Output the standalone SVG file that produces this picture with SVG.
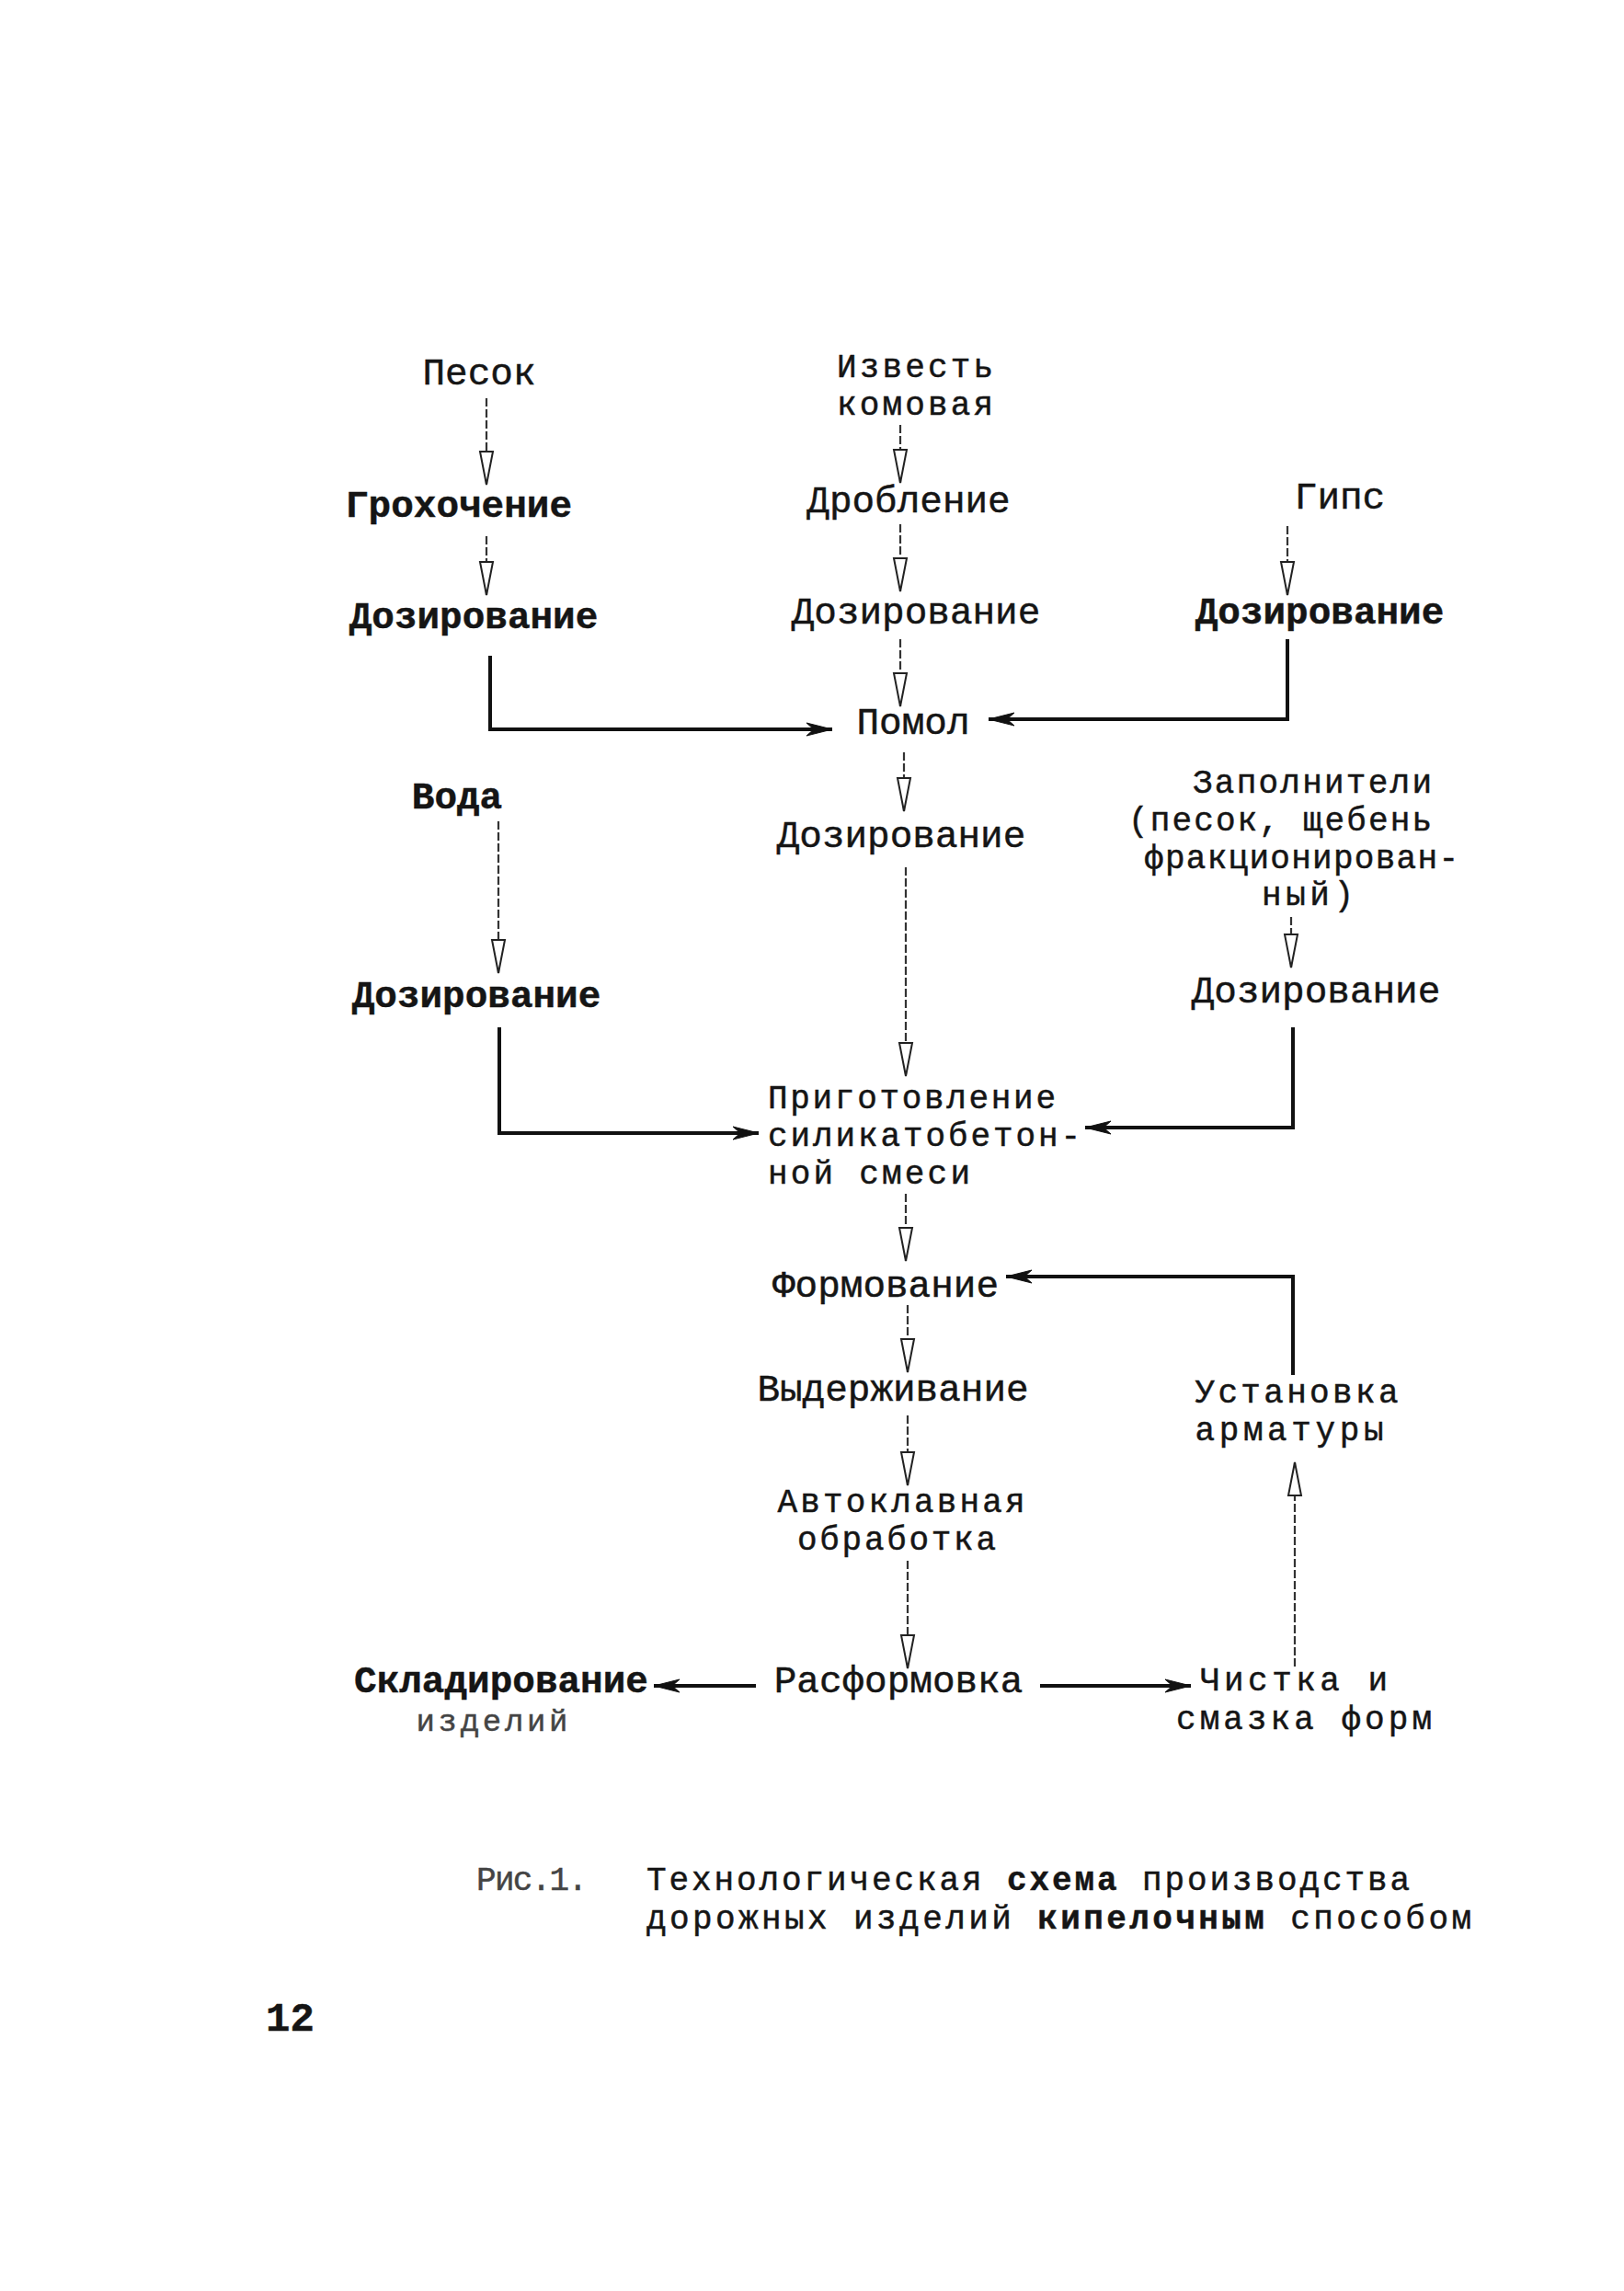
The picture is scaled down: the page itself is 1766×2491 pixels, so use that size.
<svg xmlns="http://www.w3.org/2000/svg" width="1766" height="2491" viewBox="0 0 1766 2491">
<style>
.t{font-family:"Liberation Mono","DejaVu Sans Mono",monospace;font-size:41px;fill:#151515;text-anchor:middle;stroke:#151515;stroke-width:0.5}
.s{font-size:36px}
.l{text-anchor:start}
.b{font-weight:bold}
.g{fill:#444;stroke:#444}
.v{fill:none;stroke:#333;stroke-width:2.2;stroke-dasharray:9 3}
.h{fill:none;stroke:#111;stroke-width:4}
</style>
<defs>
<marker id="ao" viewBox="-42 -10 46 20" refX="0" refY="0" markerWidth="46" markerHeight="20" markerUnits="userSpaceOnUse" orient="auto">
<path d="M-36,-7 L0,0 L-36,7 Z" fill="#fff" stroke="#222" stroke-width="2"/>
</marker>
<marker id="af" viewBox="-32 -10 36 20" refX="0" refY="0" markerWidth="36" markerHeight="20" markerUnits="userSpaceOnUse" orient="auto">
<path d="M-28,-7 L0,0 L-28,7 L-20,0 Z" fill="#111" stroke="#111" stroke-width="1"/>
</marker>
</defs>
<rect width="1766" height="2491" fill="#fff"/>

<g id="connectors">
<path class="v" d="M529,433 V527" marker-end="url(#ao)"/>
<path class="v" d="M529,583 V647" marker-end="url(#ao)"/>
<path class="h" d="M533,713 V793 H905" marker-end="url(#af)"/>
<path class="v" d="M979,462 V525" marker-end="url(#ao)"/>
<path class="v" d="M979,570 V643" marker-end="url(#ao)"/>
<path class="v" d="M979,695 V768" marker-end="url(#ao)"/>
<path class="v" d="M1400,572 V647" marker-end="url(#ao)"/>
<path class="h" d="M1400,695 V782 H1075" marker-end="url(#af)"/>
<path class="v" d="M983,818 V882" marker-end="url(#ao)"/>
<path class="v" d="M985,943 V1170" marker-end="url(#ao)"/>
<path class="v" d="M542,893 V1058" marker-end="url(#ao)"/>
<path class="h" d="M543,1117 V1232 H825" marker-end="url(#af)"/>
<path class="v" d="M1404,997 V1052" marker-end="url(#ao)"/>
<path class="h" d="M1406,1117 V1226 H1180" marker-end="url(#af)"/>
<path class="v" d="M985,1298 V1371" marker-end="url(#ao)"/>
<path class="h" d="M1406,1495 V1388 H1094" marker-end="url(#af)"/>
<path class="v" d="M987,1419 V1492" marker-end="url(#ao)"/>
<path class="v" d="M987,1539 V1615" marker-end="url(#ao)"/>
<path class="v" d="M987,1697 V1814" marker-end="url(#ao)"/>
<path class="v" d="M1408,1812 V1590" marker-end="url(#ao)"/>
<path class="h" d="M822,1833 H711" marker-end="url(#af)"/>
<path class="h" d="M1131,1833 H1295" marker-end="url(#af)"/>
</g>

<g id="n-pesok"><text class="t" x="521" y="418">Песок</text></g>
<g id="n-izvest"><text class="t s" x="995" y="410" textLength="170" lengthAdjust="spacing">Известь</text><text class="t s" x="995" y="451" textLength="170" lengthAdjust="spacing">комовая</text></g>
<g id="n-grokh"><text class="t b" x="499" y="562">Грохочение</text></g>
<g id="n-drob"><text class="t" x="988" y="557">Дробление</text></g>
<g id="n-gips"><text class="t" x="1457" y="553">Гипс</text></g>
<g id="n-doz1"><text class="t b" x="515" y="683">Дозирование</text></g>
<g id="n-doz2"><text class="t" x="996" y="678">Дозирование</text></g>
<g id="n-doz3"><text class="t b" x="1435" y="678">Дозирование</text></g>
<g id="n-pomol"><text class="t" x="993" y="798">Помол</text></g>
<g id="n-voda"><text class="t b" x="497" y="879">Вода</text></g>
<g id="n-doz4"><text class="t" x="980" y="921">Дозирование</text></g>
<g id="n-zapoln"><text class="t s" x="1427" y="862" textLength="260" lengthAdjust="spacing">Заполнители</text><text class="t s" x="1392" y="903" textLength="330" lengthAdjust="spacing">(песок, щебень</text><text class="t s" x="1415" y="944" textLength="342" lengthAdjust="spacing">фракционирован-</text><text class="t s" x="1422" y="984" textLength="100" lengthAdjust="spacing">ный)</text></g>
<g id="n-doz5"><text class="t b" x="518" y="1095">Дозирование</text></g>
<g id="n-doz6"><text class="t" x="1431" y="1090">Дозирование</text></g>
<g id="n-prig"><text class="t s l" x="835" y="1205" textLength="313" lengthAdjust="spacing">Приготовление</text><text class="t s l" x="835" y="1246" textLength="340" lengthAdjust="spacing">силикатобетон-</text><text class="t s l" x="835" y="1287" textLength="220" lengthAdjust="spacing">ной смеси</text></g>
<g id="n-form"><text class="t" x="963" y="1410">Формование</text></g>
<g id="n-vyderzh"><text class="t" x="971" y="1523">Выдерживание</text></g>
<g id="n-ustan"><text class="t s" x="1410" y="1525" textLength="221" lengthAdjust="spacing">Установка</text><text class="t s" x="1402" y="1566" textLength="205" lengthAdjust="spacing">арматуры</text></g>
<g id="n-avtokl"><text class="t s" x="980" y="1644" textLength="269" lengthAdjust="spacing">Автоклавная</text><text class="t s" x="975" y="1685" textLength="216" lengthAdjust="spacing">обработка</text></g>
<g id="n-rasf"><text class="t" x="977" y="1840">Расформовка</text></g>
<g id="n-sklad"><text class="t b" x="545" y="1840">Складирование</text><text class="t g" x="535" y="1882" style="font-size:34px" textLength="165" lengthAdjust="spacing">изделий</text></g>
<g id="n-chist"><text class="t s" x="1407" y="1838" textLength="204" lengthAdjust="spacing">Чистка и</text><text class="t s" x="1418" y="1880" textLength="278" lengthAdjust="spacing">смазка форм</text></g>

<g id="caption">
<text class="t s l g" x="518" y="2055" textLength="121" lengthAdjust="spacing">Рис.1.</text>
<text class="t s l" x="703" y="2055" textLength="830" lengthAdjust="spacing">Технологическая <tspan class="b">схема</tspan> производства</text>
<text class="t s l" x="703" y="2097" textLength="897" lengthAdjust="spacing">дорожных изделий <tspan class="b">кипелочным</tspan> способом</text>
</g>
<g id="page-number"><text class="t l b" x="289" y="2208" style="font-size:44px">12</text></g>
</svg>
